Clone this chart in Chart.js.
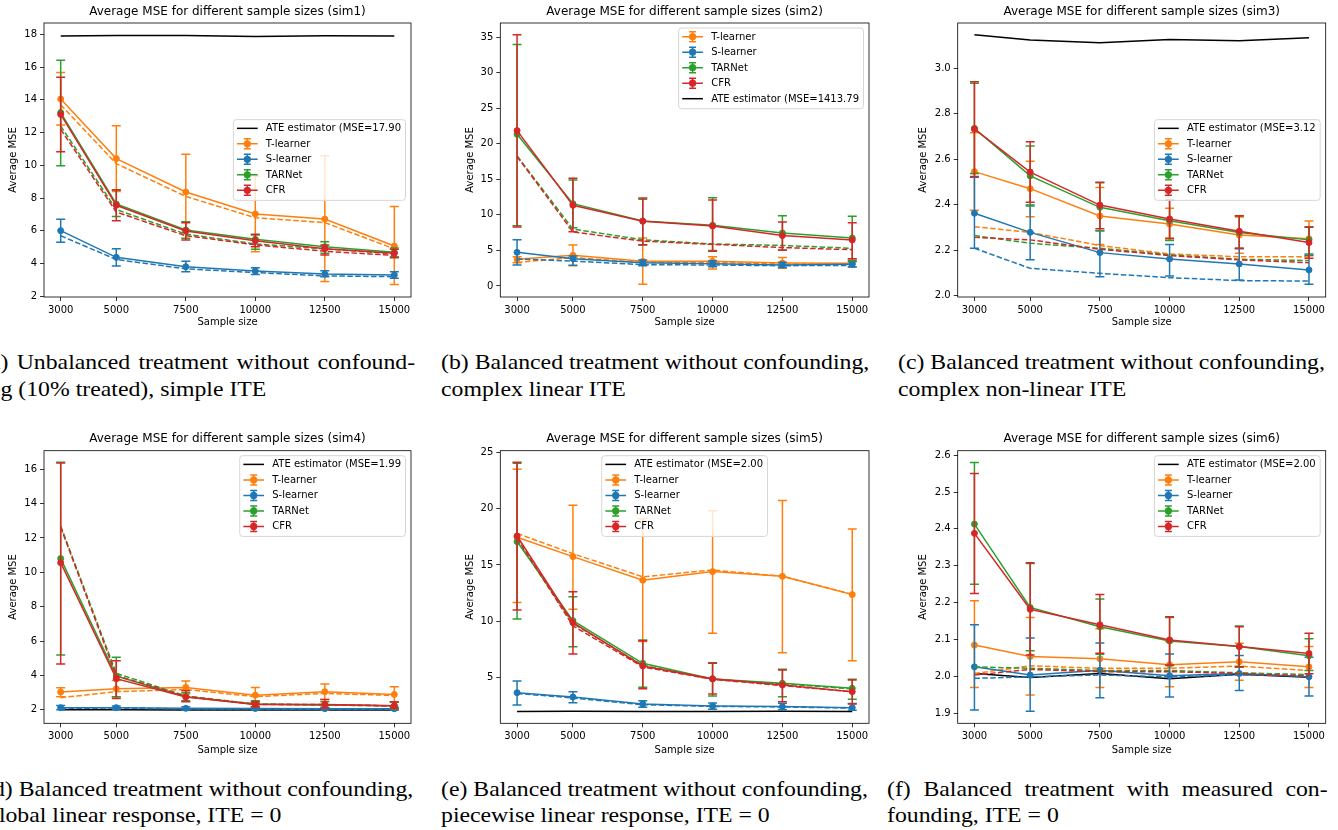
<!DOCTYPE html>
<html>
<head>
<meta charset="utf-8">
<script src="https://cdn.jsdelivr.net/npm/chart.js@4.4.1/dist/chart.umd.min.js"></script>
<style>
  body { margin: 0; background: #fff; width: 1338px; height: 830px; overflow: hidden; position: relative; }
  canvas { position: absolute; }
  .cap { position: absolute; font-family: 'Liberation Serif', 'Times New Roman', serif; font-size: 22px;
         line-height: 26px; color: #000; white-space: nowrap; transform: scaleX(1.08); transform-origin: 0 0; }
  .just { white-space: normal; text-align: justify; text-align-last: justify; }
</style>
</head>
<body>
<canvas id="sim1" width="440" height="330" style="left:0;top:0"></canvas>
<canvas id="sim2" width="440" height="330" style="left:440px;top:0"></canvas>
<canvas id="sim3" width="448" height="330" style="left:890px;top:0"></canvas>
<canvas id="sim4" width="440" height="335" style="left:0;top:425px"></canvas>
<canvas id="sim5" width="440" height="335" style="left:440px;top:425px"></canvas>
<canvas id="sim6" width="448" height="335" style="left:890px;top:425px"></canvas>

<div class="cap just" style="left:-18.5px;top:349px;width:401px">(a) Unbalanced treatment without confound-</div>
<div class="cap" style="left:-18.5px;top:376px">ing (10% treated), simple ITE</div>
<div class="cap" style="left:441px;top:349px">(b) Balanced treatment without confounding,</div>
<div class="cap" style="left:441px;top:376px">complex linear ITE</div>
<div class="cap" style="left:898px;top:349px">(c) Balanced treatment without confounding,</div>
<div class="cap" style="left:898px;top:376px">complex non-linear ITE</div>
<div class="cap" style="left:-15px;top:776px">(d) Balanced treatment without confounding,</div>
<div class="cap" style="left:-13px;top:802px">global linear response, ITE = 0</div>
<div class="cap" style="left:441px;top:776px">(e) Balanced treatment without confounding,</div>
<div class="cap" style="left:441px;top:802px">piecewise linear response, ITE = 0</div>
<div class="cap just" style="left:887px;top:776px;width:408px">(f) Balanced treatment with measured con-</div>
<div class="cap" style="left:887px;top:802px">founding, ITE = 0</div>

<script>
// x positions and series names
const sampleSizes = [3000, 5000, 7500, 10000, 12500, 15000];
const models = ['T-learner', 'S-learner', 'TARNet', 'CFR'];
const colors = ['#ff7f0e', '#1f77b4', '#2ca02c', '#d62728'];

// sim1 (rows follow models: T, S, TARNet, CFR)
const sim1Ate = [17.90, 17.92, 17.92, 17.87, 17.91, 17.90];
const sim1Mean = [[14.05, 10.41, 8.37, 7.03, 6.72, 5.07], [6.01, 4.38, 3.81, 3.55, 3.36, 3.30],
                  [13.22, 7.64, 6.05, 5.48, 5.03, 4.69], [13.11, 7.56, 5.99, 5.40, 4.91, 4.63]];
const sim1Lo = [[12.46, 8.40, 6.07, 4.73, 2.90, 2.73], [5.30, 3.85, 3.50, 3.34, 3.20, 3.10],
                [9.98, 6.87, 5.54, 4.87, 4.63, 4.42], [10.83, 6.62, 5.44, 5.03, 4.52, 4.36]];
const sim1Hi = [[15.66, 12.42, 10.67, 9.35, 10.59, 7.48], [6.70, 4.91, 4.14, 3.75, 3.57, 3.50],
                [16.41, 8.51, 6.56, 5.75, 5.34, 4.95], [15.37, 8.49, 6.50, 5.79, 5.13, 4.87]];
const sim1Dash = [[13.7, 10.1, 8.1, 6.8, 6.5, 4.9], [5.7, 4.25, 3.68, 3.45, 3.25, 3.2],
                  [12.4, 7.3, 5.8, 5.2, 4.9, 4.6], [12.2, 7.15, 5.7, 5.15, 4.75, 4.5]];
const sim1YTicks = [2, 4, 6, 8, 10, 12, 14, 16, 18];

// sim2
const sim2Ate = [1413.79, 1413.79, 1413.79, 1413.79, 1413.79, 1413.79];
const sim2Mean = [[3.75, 4.31, 3.47, 3.47, 3.23, 3.19], [4.73, 3.84, 3.28, 3.14, 2.95, 3.05],
                  [21.32, 11.57, 9.14, 8.53, 7.45, 6.75], [21.84, 11.34, 9.09, 8.43, 7.08, 6.47]];
const sim2Lo = [[3.28, 2.86, 0.23, 2.40, 2.50, 2.70], [2.95, 2.90, 2.86, 2.72, 2.58, 2.67],
                [8.48, 8.20, 5.76, 4.97, 5.01, 3.56], [8.29, 7.64, 5.81, 4.87, 5.06, 3.84]];
const sim2Hi = [[4.12, 5.76, 6.75, 4.10, 4.00, 3.80], [6.51, 4.22, 3.65, 3.56, 3.33, 3.42],
                [33.93, 14.90, 12.18, 12.42, 9.89, 9.79], [35.33, 15.14, 12.37, 12.09, 9.00, 8.90]];
const sim2Dash = [[3.3, 4.0, 3.3, 3.3, 3.1, 3.1], [3.8, 3.5, 3.0, 2.95, 2.85, 2.9],
                  [18.3, 8.0, 6.5, 5.9, 5.7, 5.3], [18.2, 7.6, 6.3, 5.85, 5.4, 5.1]];
const sim2YTicks = [0, 5, 10, 15, 20, 25, 30, 35];

// sim3
const sim3Ate = [3.146, 3.123, 3.111, 3.126, 3.120, 3.133];
const sim3Mean = [[2.545, 2.470, 2.350, 2.315, 2.266, 2.250], [2.362, 2.278, 2.189, 2.161, 2.139, 2.113],
                  [2.735, 2.526, 2.388, 2.329, 2.277, 2.245], [2.732, 2.543, 2.398, 2.337, 2.283, 2.233]];
const sim3Lo = [[2.375, 2.347, 2.225, 2.245, 2.186, 2.175], [2.208, 2.158, 2.083, 2.086, 2.069, 2.050],
                [2.537, 2.394, 2.285, 2.242, 2.208, 2.183], [2.523, 2.410, 2.294, 2.252, 2.208, 2.164]];
const sim3Hi = [[2.716, 2.590, 2.475, 2.384, 2.346, 2.328], [2.520, 2.398, 2.285, 2.225, 2.206, 2.178],
                [2.933, 2.657, 2.496, 2.420, 2.350, 2.303], [2.940, 2.676, 2.498, 2.420, 2.351, 2.300]];
const sim3Dash = [[2.303, 2.278, 2.220, 2.183, 2.171, 2.171], [2.208, 2.120, 2.098, 2.079, 2.066, 2.064],
                  [2.264, 2.230, 2.208, 2.179, 2.160, 2.154], [2.256, 2.245, 2.204, 2.176, 2.157, 2.145]];
const sim3YTicks = [2.0, 2.2, 2.4, 2.6, 2.8, 3.0];

// sim4
const sim4Ate = [2.00, 2.00, 1.99, 1.99, 1.99, 1.99];
const sim4Mean = [[3.03, 3.22, 3.30, 2.85, 3.05, 2.89], [2.12, 2.12, 2.08, 2.07, 2.06, 2.06],
                  [10.80, 3.96, 2.76, 2.33, 2.27, 2.23], [10.56, 3.81, 2.74, 2.31, 2.31, 2.23]];
const sim4Lo = [[2.76, 2.75, 2.91, 2.41, 2.60, 2.47], [2.00, 2.03, 1.99, 1.98, 1.97, 1.97],
                [5.18, 2.76, 2.52, 2.13, 2.08, 2.03], [4.66, 2.66, 2.47, 2.17, 2.08, 2.07]];
const sim4Hi = [[3.28, 3.70, 3.67, 3.30, 3.50, 3.34], [2.24, 2.21, 2.17, 2.16, 2.15, 2.15],
                [16.41, 5.05, 2.99, 2.53, 2.46, 2.43], [16.37, 4.85, 3.10, 2.47, 2.60, 2.47]];
const sim4Dash = [[2.70, 3.05, 3.18, 2.76, 2.95, 2.83], [2.08, 2.10, 2.05, 2.04, 2.03, 2.03],
                  [12.70, 4.12, 2.80, 2.33, 2.27, 2.23], [12.62, 3.98, 2.78, 2.31, 2.30, 2.22]];
const sim4YTicks = [2, 4, 6, 8, 10, 12, 14, 16];

// sim5
const sim5Ate = [2.00, 2.01, 2.00, 2.00, 2.01, 2.00];
const sim5Mean = [[17.46, 15.74, 13.64, 14.41, 13.99, 12.37], [3.67, 3.28, 2.66, 2.49, 2.43, 2.34],
                  [17.07, 10.06, 6.27, 4.88, 4.50, 4.05], [17.57, 9.88, 6.04, 4.91, 4.35, 3.76]];
const sim5Lo = [[11.66, 11.07, 8.20, 8.93, 7.22, 6.50], [2.57, 2.78, 2.37, 2.20, 2.15, 2.10],
                [10.21, 7.75, 4.14, 3.37, 3.31, 3.08], [11.00, 7.10, 4.02, 3.55, 2.87, 2.66]];
const sim5Hi = [[23.49, 20.30, 19.10, 19.82, 20.71, 18.20], [4.70, 3.76, 2.96, 2.76, 2.73, 2.70],
                [24.02, 12.19, 8.34, 6.33, 5.74, 4.85], [24.11, 12.63, 8.28, 6.27, 5.68, 4.79]];
const sim5Dash = [[17.8, 16.0, 13.95, 14.55, 14.0, 12.4], [3.6, 3.2, 2.6, 2.45, 2.4, 2.3],
                  [17.2, 9.8, 6.1, 4.85, 4.45, 4.0], [17.4, 9.6, 5.95, 4.85, 4.3, 3.75]];
const sim5YTicks = [5, 10, 15, 20, 25];

// sim6
const sim6Ate = [2.008, 1.997, 2.008, 1.994, 2.006, 1.998];
const sim6Mean = [[2.085, 2.054, 2.048, 2.032, 2.040, 2.026], [2.026, 2.004, 2.017, 2.002, 2.008, 1.999],
                  [2.413, 2.187, 2.135, 2.096, 2.081, 2.056], [2.388, 2.182, 2.140, 2.099, 2.081, 2.062]];
const sim6Lo = [[1.970, 1.950, 1.970, 1.972, 1.990, 1.970], [1.909, 1.906, 1.942, 1.944, 1.962, 1.947],
                [2.250, 2.070, 2.060, 2.030, 2.025, 2.016], [2.225, 2.058, 2.063, 2.031, 2.026, 2.007]];
const sim6Hi = [[2.205, 2.160, 2.129, 2.094, 2.090, 2.081], [2.140, 2.104, 2.091, 2.061, 2.057, 2.052],
                [2.580, 2.306, 2.210, 2.160, 2.137, 2.102], [2.550, 2.308, 2.222, 2.162, 2.135, 2.117]];
const sim6Dash = [[2.008, 2.029, 2.022, 2.022, 2.028, 2.016], [1.995, 1.999, 2.004, 1.999, 2.004, 2.003],
                  [2.026, 2.022, 2.016, 2.016, 2.010, 2.005], [2.004, 2.019, 2.013, 2.013, 2.008, 2.001]];
const sim6YTicks = [1.9, 2.0, 2.1, 2.2, 2.3, 2.4, 2.5, 2.6];

Chart.defaults.font.family = '"DejaVu Sans", sans-serif';
Chart.defaults.font.size = 10;
Chart.defaults.color = '#000';

const pts = vals => vals.map((v, i) => ({ x: sampleSizes[i], y: v }));

// error bars, frame, legend and title
const decor = {
  id: 'decor',
  beforeDatasetDraw(chart, args) {
    const ds = chart.data.datasets[args.index];
    if (!ds.errLo) return;
    const { ctx, chartArea: a, scales: { x, y } } = chart;
    ctx.save();
    ctx.beginPath();
    ctx.rect(a.left, a.top, a.right - a.left, a.bottom - a.top);
    ctx.clip();
    ctx.strokeStyle = ds.borderColor;
    ctx.lineWidth = 1.5;
    ds.data.forEach((p, i) => {
      const px = x.getPixelForValue(p.x);
      const y0 = y.getPixelForValue(ds.errLo[i]);
      const y1 = y.getPixelForValue(ds.errHi[i]);
      ctx.beginPath();
      ctx.moveTo(px, y0); ctx.lineTo(px, y1);
      ctx.moveTo(px - 4.5, y0); ctx.lineTo(px + 4.5, y0);
      ctx.moveTo(px - 4.5, y1); ctx.lineTo(px + 4.5, y1);
      ctx.stroke();
    });
    ctx.restore();
  },
  afterDatasetsDraw(chart, args, opts) {
    const { ctx, chartArea: a } = chart;
    ctx.save();
    ctx.strokeStyle = '#000';
    ctx.lineWidth = 0.8;
    ctx.strokeRect(a.left, a.top, a.right - a.left, a.bottom - a.top);

    // legend
    const items = opts.order.map(lbl => chart.data.datasets.find(d => d.label === lbl));
    ctx.font = '10px "DejaVu Sans"';
    const textW = Math.max(...items.map(d => ctx.measureText(d.label).width));
    const rowH = 15.5;
    const w = 32.5 + textW + 4.5, h = items.length * rowH + 3.2;
    const bx = opts.loc.includes('right') ? a.right - 5.5 - w : (a.left + a.right) / 2 - w / 2;
    const by = opts.loc.startsWith('upper') ? a.top + 5 : (a.top + a.bottom) / 2 - h / 2;
    ctx.beginPath();
    ctx.roundRect(bx, by, w, h, 3);
    ctx.fillStyle = 'rgba(255,255,255,0.8)';
    ctx.fill();
    ctx.strokeStyle = '#d6d6d6';
    ctx.lineWidth = 1;
    ctx.stroke();
    items.forEach((d, k) => {
      const cy = by + 8.7 + k * rowH;
      const hx0 = bx + 3.6, hx1 = bx + 24.3, mx = (hx0 + hx1) / 2;
      ctx.strokeStyle = d.borderColor;
      ctx.lineWidth = 1.5;
      ctx.beginPath();
      ctx.moveTo(hx0, cy); ctx.lineTo(hx1, cy);
      if (d.errLo) {
        ctx.moveTo(mx, cy - 5); ctx.lineTo(mx, cy + 5);
        ctx.moveTo(mx - 3.5, cy - 5); ctx.lineTo(mx + 3.5, cy - 5);
        ctx.moveTo(mx - 3.5, cy + 5); ctx.lineTo(mx + 3.5, cy + 5);
      }
      ctx.stroke();
      if (d.errLo) {
        ctx.beginPath();
        ctx.arc(mx, cy, 3.6, 0, Math.PI * 2);
        ctx.fillStyle = d.borderColor;
        ctx.fill();
      }
      ctx.fillStyle = '#000';
      ctx.textBaseline = 'middle';
      ctx.textAlign = 'left';
      ctx.fillText(d.label, bx + 32.5, cy + 0.5);
    });
    ctx.restore();
  },
  afterDraw(chart, args, opts) {
    const { ctx, chartArea: a } = chart;
    ctx.save();
    ctx.font = '12px "DejaVu Sans"';
    ctx.fillStyle = '#000';
    ctx.textAlign = 'center';
    ctx.textBaseline = 'middle';
    ctx.fillText(opts.title, (a.left + a.right) / 2, a.top - opts.titleGap);
    ctx.restore();
  }
};

function buildSets(ate, ateLabel, mean, lo, hi, dash, ateLast) {
  const ateSet = { label: ateLabel, data: pts(ate), borderColor: '#000', borderWidth: 1.5, pointRadius: 0 };
  const sets = ateLast ? [] : [ateSet];
  models.forEach((m, k) => {
    sets.push({ label: m, data: pts(mean[k]), borderColor: colors[k], backgroundColor: colors[k],
                borderWidth: 1.5, pointRadius: 3, pointBorderWidth: 1, pointBackgroundColor: colors[k],
                errLo: lo[k], errHi: hi[k] });
    sets.push({ label: m + ' (mean)', data: pts(dash[k]), borderColor: colors[k], borderWidth: 1.5,
                borderDash: [5.5, 2.4], pointRadius: 0 });
  });
  if (ateLast) sets.push(ateSet);
  sets.forEach((s, i) => { s.order = sets.length - i; s.tension = 0; s.fill = false; });
  return sets;
}

function makePanel(id, p) {
  const cv = document.getElementById(id);
  const cx = parseFloat(cv.style.left), cy = parseFloat(cv.style.top);
  const cw = cv.width, ch = cv.height;
  new Chart(cv, {
    type: 'line',
    data: { datasets: p.sets },
    plugins: [decor],
    options: {
      responsive: false,
      animation: false,
      events: [],
      layout: { padding: { left: 0, top: p.area[1] - cy, right: cx + cw - p.area[2], bottom: 0 } },
      plugins: {
        legend: { display: false },
        tooltip: { enabled: false },
        decor: { order: p.legend, loc: p.loc, title: p.title, titleGap: p.titleGap }
      },
      scales: {
        x: {
          type: 'linear', min: 2400, max: 15600,
          afterBuildTicks: s => { s.ticks = sampleSizes.map(v => ({ value: v })); },
          afterFit: s => { s.height = cy + ch - p.area[3]; },
          ticks: { autoSkip: false, maxRotation: 0, padding: 3, callback: v => String(v), font: { size: 10 } },
          grid: { drawOnChartArea: false, tickLength: 4, color: '#000', tickWidth: 0.8 },
          border: { display: false },
          title: { display: true, text: 'Sample size', font: { size: 10 }, padding: { top: 0, bottom: p.xPad } }
        },
        y: {
          type: 'linear', min: p.yMin, max: p.yMax,
          afterBuildTicks: s => { s.ticks = p.yTicks.map(v => ({ value: v })); },
          afterFit: s => { s.width = p.area[0] - cx; },
          ticks: { autoSkip: false, padding: 3, callback: v => v.toFixed(p.dec), font: { size: 10 } },
          grid: { drawOnChartArea: false, tickLength: 4, color: '#000', tickWidth: 0.8 },
          border: { display: false },
          title: { display: true, text: 'Average MSE', font: { size: 10 }, padding: { top: p.yPad, bottom: 0 } }
        }
      }
    }
  });
}

const stdOrder = ['ATE', 'T-learner', 'S-learner', 'TARNet', 'CFR'];
const withAte = (lbl) => stdOrder.map(s => s === 'ATE' ? lbl : s);

makePanel('sim1', {
  sets: buildSets(sim1Ate, 'ATE estimator (MSE=17.90', sim1Mean, sim1Lo, sim1Hi, sim1Dash, false),
  legend: withAte('ATE estimator (MSE=17.90'), loc: 'center right',
  title: 'Average MSE for different sample sizes (sim1)', titleGap: 11,
  area: [44, 23, 411, 297], yMin: 1.96, yMax: 18.69, yTicks: sim1YTicks, dec: 0, xPad: 2, yPad: 7
});
makePanel('sim2', {
  sets: buildSets(sim2Ate, 'ATE estimator (MSE=1413.79', sim2Mean, sim2Lo, sim2Hi, sim2Dash, true),
  legend: ['T-learner', 'S-learner', 'TARNet', 'CFR', 'ATE estimator (MSE=1413.79'], loc: 'upper right',
  title: 'Average MSE for different sample sizes (sim2)', titleGap: 11,
  area: [500.3, 23, 869, 297], yMin: -1.55, yMax: 36.97, yTicks: sim2YTicks, dec: 0, xPad: 2, yPad: 24
});
makePanel('sim3', {
  sets: buildSets(sim3Ate, 'ATE estimator (MSE=3.12', sim3Mean, sim3Lo, sim3Hi, sim3Dash, false),
  legend: withAte('ATE estimator (MSE=3.12'), loc: 'center right',
  title: 'Average MSE for different sample sizes (sim3)', titleGap: 11,
  area: [957.7, 23, 1325.7, 297], yMin: 1.994, yMax: 3.198, yTicks: sim3YTicks, dec: 1, xPad: 2, yPad: 27
});
makePanel('sim4', {
  sets: buildSets(sim4Ate, 'ATE estimator (MSE=1.99', sim4Mean, sim4Lo, sim4Hi, sim4Dash, false),
  legend: withAte('ATE estimator (MSE=1.99'), loc: 'upper right',
  title: 'Average MSE for different sample sizes (sim4)', titleGap: 11.7,
  area: [44, 450.7, 411, 723.3], yMin: 1.21, yMax: 17.08, yTicks: sim4YTicks, dec: 0, xPad: 4, yPad: 7
});
makePanel('sim5', {
  sets: buildSets(sim5Ate, 'ATE estimator (MSE=2.00', sim5Mean, sim5Lo, sim5Hi, sim5Dash, false),
  legend: withAte('ATE estimator (MSE=2.00'), loc: 'upper center',
  title: 'Average MSE for different sample sizes (sim5)', titleGap: 11.7,
  area: [500.3, 450.7, 869, 723.3], yMin: 0.95, yMax: 25.14, yTicks: sim5YTicks, dec: 0, xPad: 4, yPad: 24
});
makePanel('sim6', {
  sets: buildSets(sim6Ate, 'ATE estimator (MSE=2.00', sim6Mean, sim6Lo, sim6Hi, sim6Dash, false),
  legend: withAte('ATE estimator (MSE=2.00'), loc: 'upper right',
  title: 'Average MSE for different sample sizes (sim6)', titleGap: 11.7,
  area: [957.7, 450.7, 1325.7, 723.3], yMin: 1.873, yMax: 2.612, yTicks: sim6YTicks, dec: 1, xPad: 4, yPad: 27
});
</script>
</body>
</html>
